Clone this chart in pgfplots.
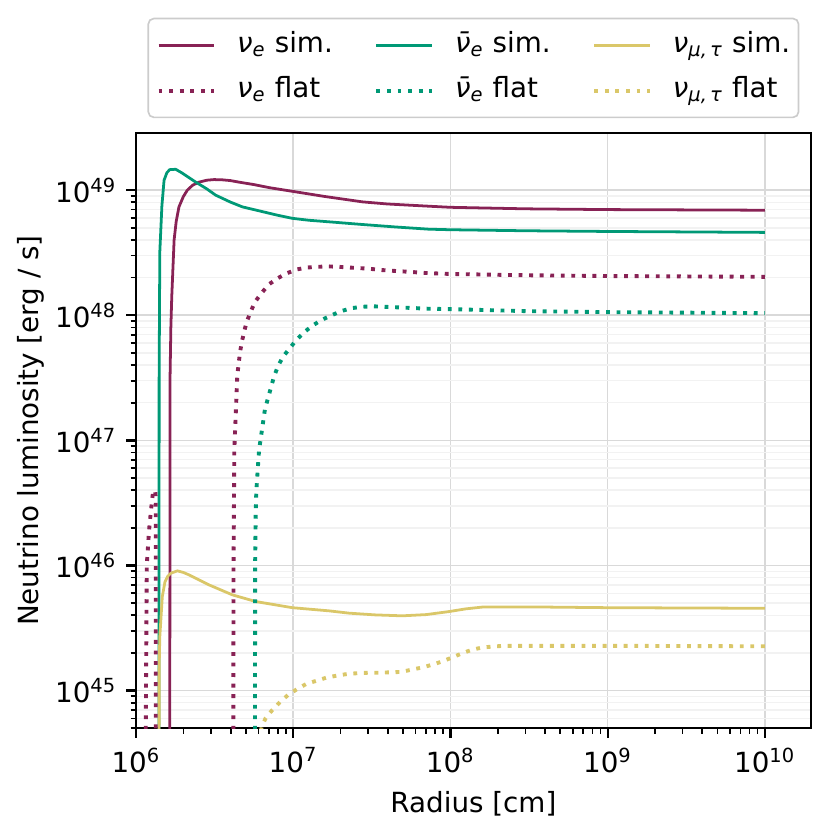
\documentclass[border=0pt]{standalone}
\usepackage{fontspec}
\setmainfont{DejaVu Sans}[ItalicFont={DejaVu Sans Oblique}]
\usepackage{pgfplots}
\pgfplotsset{compat=1.18}
\definecolor{cnue}{HTML}{882255}
\definecolor{cnub}{RGB}{0,153,118}
\definecolor{cnux}{RGB}{218,199,105}
\definecolor{lgframe}{RGB}{204,204,204}
\begin{document}
\begin{tikzpicture}
\begin{axis}[
  xmode=log, ymode=log,
  scale only axis, width=243pt, height=214.4pt,
  xmin=1e6, xmax=1.96e10, ymin=5e44, ymax=2.87e49,
  axis line style={line width=0.8pt},
  tick align=outside, xtick pos=bottom, ytick pos=left,
  major tick length=3.5pt, minor tick length=2pt,
  major tick style={black, line width=0.8pt},
  minor tick style={black, line width=0.6pt},
  xmajorgrids, ymajorgrids, yminorgrids,
  major grid style={color=gray!30, line width=0.6pt},
  minor grid style={color=gray!10, line width=0.5pt},
  xlabel={Radius [cm]},
  ylabel={Neutrino luminosity [erg / s]},
  ylabel shift=-3pt,
  xticklabel={10\textsuperscript{\pgfmathparse{int(round(\tick/ln(10)))}\pgfmathresult}},
  yticklabel={10\textsuperscript{\pgfmathparse{int(round(\tick/ln(10)))}\pgfmathresult}},
  legend columns=3,
  legend image code/.code={\draw[#1] (0pt,0pt) -- (20pt,0pt);},
  legend style={at={(0.5,1)}, anchor=south, yshift=5.3pt,
    draw=lgframe, line width=0.6pt, rounded corners=2pt, fill=white,
    inner xsep=3pt, inner ysep=4pt, row sep=5pt,
    nodes={inner xsep=0pt, inner ysep=0.65pt, text height=7.5pt, text depth=2.5pt},
    cells={anchor=west},
    /tikz/every odd column/.append style={column sep=7.6pt},
    /tikz/every even column/.append style={column sep=15pt},
    font=\fontsize{10}{12}\selectfont},
  solid/.style={line width=1pt},
  dott/.style={line width=1.4pt, dash pattern=on 1.4pt off 2.4pt, line cap=butt},
]
% nu_e sim
\addplot[cnue, solid, no marks] coordinates {
(1.635e6,1e43) (1.640e6,1e45) (1.644e6,3.0e47) (1.665e6,8.0e47) (1.687e6,1.41e48)
(1.746e6,4.0e48) (1.80e6,5.62e48) (1.875e6,7.36e48) (2.0e6,8.9e48) (2.118e6,1.0e49)
(2.29e6,1.096e49) (2.512e6,1.16e49) (2.818e6,1.202e49) (3.133e6,1.216e49) (3.548e6,1.21e49)
(3.98e6,1.194e49) (4.519e6,1.16e49) (5.62e6,1.109e49) (7.08e6,1.047e49) (9.86e6,9.8e48)
(1.585e7,8.91e48) (2.75e7,8.07e48) (3.98e7,7.76e48) (7.29e7,7.45e48) (1e8,7.3e48)
(3e8,7.1e48) (1e9,7.0e48) (1e10,6.92e48)};
\addlegendentry{{\itshape ν}\textsubscript{\itshape e} sim.}
% nubar_e sim
\addplot[cnub, solid, no marks] coordinates {
(1.398e6,1e43) (1.400e6,1e45) (1.402e6,3.15e47) (1.416e6,3.21e48) (1.46e6,7.5e48)
(1.507e6,1.2e49) (1.57e6,1.38e49) (1.637e6,1.46e49) (1.786e6,1.47e49) (1.968e6,1.37e49)
(2.399e6,1.16e49) (2.8e6,1.03e49) (3.214e6,9.12e48) (3.98e6,8.04e48) (4.742e6,7.36e48)
(6.31e6,6.76e48) (7.94e6,6.31e48) (9.86e6,5.96e48) (1.259e7,5.75e48) (1.778e7,5.56e48)
(2.75e7,5.32e48) (4.5e7,5.08e48) (7.29e7,4.88e48) (1e8,4.83e48) (3e8,4.74e48)
(1e9,4.68e48) (1e10,4.6e48)};
\addlegendentry{{\itshape ν̄}\textsubscript{\itshape e} sim.}
% nu_x sim
\addplot[cnux, solid, no marks] coordinates {
(1.400e6,1e43) (1.402e6,1.5e45) (1.416e6,2.7e45) (1.469e6,5.65e45) (1.528e6,7.43e45)
(1.59e6,8.2e45) (1.663e6,8.67e45) (1.832e6,9.06e45) (2.0e6,8.8e45) (2.173e6,8.41e45)
(2.911e6,7.0e45) (4.093e6,5.83e45) (5.77e6,5.15e45) (9.86e6,4.6e45) (1.687e7,4.34e45)
(2.26e7,4.16e45) (3.3e7,4.03e45) (4.93e7,3.96e45) (7.0e7,4.05e45) (9.77e7,4.28e45)
(1.25e8,4.5e45) (1.59e8,4.65e45) (4.23e8,4.65e45) (1e9,4.6e45) (1e10,4.55e45)};
\addlegendentry{{\itshape ν}\textsubscript{\itshape μ,\,τ} sim.}
% nu_e flat (spike)
\addplot[cnue, dott, no marks, forget plot] coordinates {
(1.14e6,1e43) (1.153e6,5.1e44) (1.17e6,1.01e46) (1.21e6,1.92e46) (1.245e6,2.78e46)
(1.264e6,3.34e46) (1.283e6,3.87e46) (1.30e6,4.0e46) (1.325e6,3.9e46) (1.334e6,3.5e46)
(1.335e6,1e43)};
% nu_e flat
\addplot[cnue, dott, no marks] coordinates {
(4.150e6,1e43) (4.156e6,5e44) (4.17e6,1e46) (4.217e6,8.37e46) (4.406e6,3.33e47)
(4.58e6,5.0e47) (4.70e6,6.08e47) (4.86e6,7.30e47) (5.03e6,8.71e47) (5.36e6,1.07e48)
(5.71e6,1.28e48) (6.27e6,1.50e48) (7.01e6,1.77e48) (7.92e6,1.97e48) (9.03e6,2.16e48)
(1.06e7,2.33e48) (1.23e7,2.41e48) (1.42e7,2.44e48) (1.67e7,2.46e48) (1.95e7,2.44e48)
(2.26e7,2.41e48) (2.69e7,2.38e48) (3.11e7,2.35e48) (3.65e7,2.30e48) (4.26e7,2.27e48)
(5.06e7,2.24e48) (5.94e7,2.21e48) (6.88e7,2.18e48) (1e8,2.14e48) (3e8,2.09e48)
(1e9,2.06e48) (1e10,2.03e48)};
\addlegendentry{{\itshape ν}\textsubscript{\itshape e} flat}
% nubar_e flat
\addplot[cnub, dott, no marks] coordinates {
(5.70e6,1e43) (5.71e6,5e44) (5.72e6,1e46) (5.77e6,2.62e46) (5.82e6,3.89e46)
(5.94e6,5.80e46) (6.06e6,8.37e46) (6.61e6,1.78e47) (7.54e6,3.23e47) (8.0e6,3.93e47)
(8.61e6,4.67e47) (9.49e6,5.44e47) (1.045e7,6.34e47) (1.17e7,7.30e47) (1.32e7,8.24e47)
(1.51e7,9.16e47) (1.75e7,1.00e48) (2.02e7,1.08e48) (2.34e7,1.14e48) (2.75e7,1.17e48)
(3.21e7,1.18e48) (3.78e7,1.17e48) (4.42e7,1.16e48) (5.19e7,1.15e48) (6.06e7,1.14e48)
(6.95e7,1.13e48) (1e8,1.12e48) (3e8,1.08e48) (1e9,1.06e48) (1e10,1.04e48)};
\addlegendentry{{\itshape ν̄}\textsubscript{\itshape e} flat}
% nu_x flat
\addplot[cnux, dott, no marks] coordinates {
(6.1e6,1e44) (6.2e6,4.5e44) (6.30e6,5.16e44) (6.68e6,6.03e44) (7.35e6,6.99e44)
(8.22e6,8.09e44) (9.29e6,9.25e44) (1.06e7,1.03e45) (1.21e7,1.13e45) (1.41e7,1.20e45)
(1.63e7,1.27e45) (1.91e7,1.32e45) (2.23e7,1.36e45) (2.62e7,1.38e45) (3.06e7,1.39e45)
(3.56e7,1.39e45) (4.16e7,1.40e45) (4.86e7,1.41e45) (5.66e7,1.47e45) (6.61e7,1.53e45)
(7.65e7,1.61e45) (8.86e7,1.71e45) (1.026e8,1.84e45) (1.19e8,1.99e45) (1.37e8,2.12e45)
(1.59e8,2.21e45) (1.87e8,2.25e45) (2.19e8,2.28e45) (3.0e8,2.28e45) (1e9,2.28e45)
(1e10,2.26e45)};
\addlegendentry{{\itshape ν}\textsubscript{\itshape μ,\,τ} flat}
\end{axis}
\pgfresetboundingbox
\path[use as bounding box] (-49pt,-37.7pt) rectangle (250.2pt,262.3pt);
\end{tikzpicture}
\end{document}
